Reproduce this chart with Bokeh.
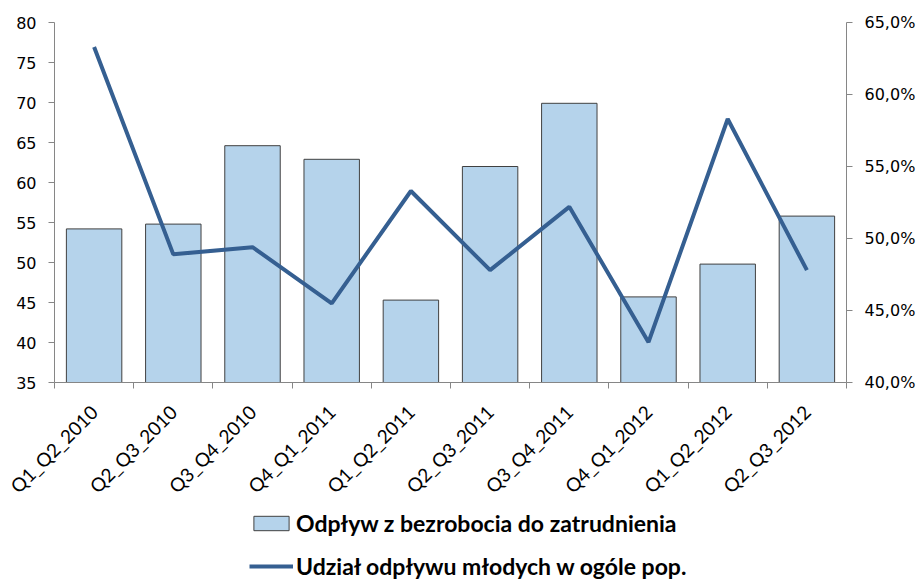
import math
from bokeh.plotting import figure
from bokeh.layouts import column
from bokeh.models import (Range1d, LinearAxis, FixedTicker, Legend, LegendItem, ColumnDataSource)
from bokeh.embed import file_html
from bokeh.resources import INLINE

categories = ["Q1_Q2_2010", "Q2_Q3_2010", "Q3_Q4_2010", "Q4_Q1_2011", "Q1_Q2_2011",
              "Q2_Q3_2011", "Q3_Q4_2011", "Q4_Q1_2012", "Q1_Q2_2012", "Q2_Q3_2012"]
outflow = [54.2, 54.8, 64.6, 62.9, 45.3, 62.0, 69.9, 45.7, 49.8, 55.8]
youth_share = [63.3, 48.9, 49.4, 45.5, 53.3, 47.8, 52.2, 42.8, 58.3, 47.8]
left_ticks = [35, 40, 45, 50, 55, 60, 65, 70, 75, 80]
right_ticks = [40, 45, 50, 55, 60, 65]
right_labels = ["40,0%", "45,0%", "50,0%", "55,0%", "60,0%", "65,0%"]
legend_labels = ["Odpływ z bezrobocia do zatrudnienia", "Udział odpływu młodych w ogóle pop."]

BAR_FILL = "#b5d3eb"
BAR_LINE = "#404040"
LINE_COL = "#355f91"
AX = "#868686"

xpos = [i + 0.5 for i in range(len(categories))]
src = ColumnDataSource(dict(x=xpos, bar=outflow, share=youth_share))

p = figure(frame_width=792, frame_height=360, output_backend="svg", toolbar_location=None,
           x_range=Range1d(0, 10), y_range=Range1d(35, 80),
           min_border_left=54, min_border_right=67, min_border_top=22, min_border_bottom=110)
p.outline_line_color = None
p.xgrid.visible = False
p.ygrid.visible = False
p.extra_y_ranges = {"pct": Range1d(40, 65)}

p.vbar(x="x", top="bar", bottom=35, width=0.7, source=src,
       fill_color=BAR_FILL, line_color=BAR_LINE, line_width=1)
p.line(x="x", y="share", source=src, y_range_name="pct",
       line_color=LINE_COL, line_width=4)

xa = p.xaxis[0]
xa.ticker = FixedTicker(ticks=xpos, minor_ticks=list(range(0, 11)))
xa.major_label_overrides = {x: c for x, c in zip(xpos, categories)}
xa.major_label_orientation = math.pi / 4
xa.major_tick_line_color = None
xa.minor_tick_in = 0
xa.minor_tick_out = 6
xa.minor_tick_line_color = AX
xa.axis_line_color = AX
xa.major_label_text_font = "Lato"
xa.major_label_text_font_size = "19px"
xa.major_label_text_color = "#000000"
xa.major_label_standoff = 20

ya = p.yaxis[0]
ya.ticker = FixedTicker(ticks=left_ticks)
ya.minor_tick_line_color = None
ya.major_tick_in = 0
ya.major_tick_out = 6
ya.major_tick_line_color = AX
ya.axis_line_color = AX
ya.major_label_text_font = "DejaVu Sans"
ya.major_label_text_font_size = "16px"
ya.major_label_text_color = "#000000"
ya.major_label_standoff = 12

ra = LinearAxis(y_range_name="pct", ticker=FixedTicker(ticks=right_ticks))
ra.major_label_overrides = {t: l for t, l in zip(right_ticks, right_labels)}
ra.minor_tick_line_color = None
ra.major_tick_in = 0
ra.major_tick_out = 6
ra.major_tick_line_color = AX
ra.axis_line_color = AX
ra.major_label_text_font = "DejaVu Sans"
ra.major_label_text_font_size = "16px"
ra.major_label_text_color = "#000000"
ra.major_label_standoff = 12
p.add_layout(ra, "right")

# legend panel: a second figure whose view range excludes the proxy glyphs
lsrc = ColumnDataSource(dict(x=xpos[:1], bar=outflow[:1], share=youth_share[:1]))
lg = figure(width=913, height=73, output_backend="svg", toolbar_location=None,
            x_range=Range1d(1000, 1001), y_range=Range1d(1000, 1001),
            x_axis_location=None, y_axis_location=None,
            min_border_left=0, min_border_right=0, min_border_top=0, min_border_bottom=0)
lg.outline_line_color = None
lg.grid.visible = False
r_bar = lg.vbar(x="x", top="bar", bottom=35, width=0.7, source=lsrc,
                fill_color=BAR_FILL, line_color=BAR_LINE, line_width=1)
r_line = lg.line(x="x", y="share", source=lsrc, line_color=LINE_COL, line_width=4)

legend = Legend(items=[LegendItem(label=legend_labels[0], renderers=[r_bar]),
                       LegendItem(label=legend_labels[1], renderers=[r_line])],
                location=(195, 1), orientation="vertical")
legend.border_line_color = None
legend.background_fill_alpha = 0
legend.glyph_width = 44
legend.glyph_height = 18
legend.label_height = 20
legend.label_standoff = 3
legend.spacing = 15
legend.padding = 0
legend.margin = 0
legend.label_text_font = "Lato"
legend.label_text_font_style = "bold"
legend.label_text_font_size = "23px"
legend.label_text_color = "#000000"
lg.add_layout(legend)

layout = column(p, lg, spacing=0)
open("out.html", "w").write(file_html(layout, INLINE))
